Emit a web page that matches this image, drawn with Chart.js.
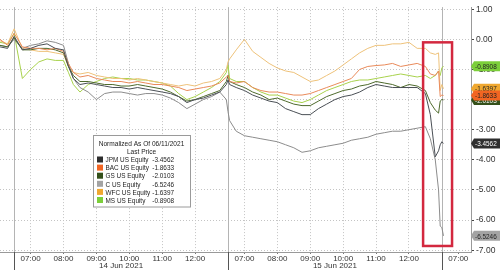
<!DOCTYPE html>
<html><head><meta charset="utf-8">
<script src="https://cdn.jsdelivr.net/npm/chart.js@4.4.0/dist/chart.umd.min.js"></script>
<style>html,body{margin:0;padding:0;background:#fff;}#wrap{width:500px;height:270px;position:relative;}</style>
</head><body><div id="wrap"><canvas id="c" width="500" height="270"></canvas></div>
<script>
// session time in hours (06:30 of 14 Jun = 0, sessions 6.5h long, joined)
const hours = [-0.43,-0.2,0,0.25,0.5,0.75,1.0,1.25,1.5,1.65,1.8,2.0,2.25,2.5,2.75,3.0,3.25,3.5,3.75,4.0,4.25,4.5,4.75,5.0,5.25,5.5,5.75,6.0,6.25,6.45,
  6.5,6.55,6.75,7.0,7.25,7.5,7.75,8.0,8.25,8.5,8.75,9.0,9.25,9.5,9.75,10.0,10.25,10.5,10.75,11.0,11.25,11.5,11.75,12.0,12.25,12.5,12.65,12.8,12.9,12.95,13.0,13.05];

const jpm = [-0.25,-0.3,0.1,-0.35,-0.3,-0.2,-0.15,-0.3,-0.35,-0.9,-1.3,-1.5,-1.45,-1.5,-1.55,-1.6,-1.6,-1.65,-1.6,-1.65,-1.7,-1.75,-1.8,-1.9,-2.1,-2.0,-1.95,-1.85,-1.75,-1.5,
  -1.35,-1.5,-1.6,-1.7,-1.85,-1.95,-2.05,-2.1,-2.3,-2.4,-2.5,-2.5,-2.3,-2.15,-2.0,-1.9,-1.85,-1.75,-1.6,-1.5,-1.55,-1.6,-1.6,-1.6,-1.6,-1.8,-2.5,-3.9,-3.7,-3.5,-3.4,-3.4562];
const bac = [0.0,-0.2,0.2,-0.25,-0.3,-0.3,-0.35,-0.3,-0.4,-0.8,-1.1,-1.25,-1.2,-1.3,-1.35,-1.4,-1.4,-1.45,-1.4,-1.45,-1.5,-1.5,-1.55,-1.6,-1.7,-1.65,-1.6,-1.55,-1.45,-1.25,
  -1.2,-1.4,-1.45,-1.4,-1.6,-1.7,-1.75,-1.75,-1.8,-1.85,-1.85,-1.8,-1.7,-1.6,-1.5,-1.4,-1.3,-1.0,-0.9,-0.87,-0.85,-0.8,-0.9,-0.85,-0.8,-0.9,-1.15,-1.2,-1.05,-1.9,-1.85,-1.8633];
const gs = [-0.2,-0.25,0.05,-0.35,-0.35,-0.3,-0.3,-0.35,-0.45,-0.9,-1.2,-1.4,-1.4,-1.45,-1.5,-1.5,-1.55,-1.55,-1.5,-1.55,-1.6,-1.65,-1.75,-1.9,-2.05,-2.0,-1.9,-1.8,-1.7,-1.4,
  -1.2,-1.4,-1.5,-1.6,-1.75,-1.85,-2.0,-1.95,-2.05,-2.15,-2.2,-2.2,-2.05,-1.9,-1.8,-1.7,-1.65,-1.55,-1.5,-1.4,-1.45,-1.5,-1.6,-1.5,-1.55,-1.7,-2.1,-2.35,-2.45,-2.05,-2.0,-2.0103];
const cStk = [-0.2,-0.25,0.0,-0.3,-0.2,-0.15,-0.05,-0.1,-0.2,-0.8,-1.3,-1.6,-1.75,-2.0,-1.8,-1.75,-1.75,-1.8,-1.85,-1.8,-1.8,-1.85,-1.95,-2.1,-2.3,-2.15,-2.0,-1.9,-1.75,-2.0,
  -2.4,-2.7,-3.05,-3.2,-3.25,-3.3,-3.35,-3.4,-3.5,-3.6,-3.75,-3.7,-3.6,-3.55,-3.5,-3.45,-3.35,-3.3,-3.25,-3.15,-3.1,-3.05,-3.05,-3.0,-2.95,-2.9,-3.3,-4.0,-5.0,-6.2,-6.25,-6.5246];
const wfc = [-0.05,-0.15,0.35,-0.3,-0.35,-0.4,-0.4,-0.45,-0.5,-0.9,-1.1,-1.15,-1.1,-1.2,-1.25,-1.3,-1.3,-1.35,-1.3,-1.35,-1.4,-1.45,-1.5,-1.55,-1.5,-1.55,-1.45,-1.4,-1.3,-1.0,
  -0.75,-0.65,-0.35,0.0,-0.4,-0.6,-0.8,-0.95,-1.05,-1.1,-1.25,-1.4,-1.35,-1.2,-1.05,-0.85,-0.65,-0.45,-0.3,-0.2,-0.2,-0.15,-0.15,-0.1,-0.3,-0.3,-0.45,-0.5,-0.45,-1.7,-1.5,-1.6397];
const ms = [-0.1,-0.15,0.2,-1.3,-1.0,-0.75,-0.65,-0.7,-0.7,-1.1,-1.5,-1.75,-1.5,-1.4,-1.3,-1.25,-1.3,-1.3,-1.35,-1.35,-1.4,-1.45,-1.55,-1.8,-2.0,-1.9,-1.75,-1.6,-1.4,-1.1,
  -0.85,-1.3,-1.4,-1.4,-1.6,-1.75,-1.85,-1.85,-1.95,-2.05,-2.1,-2.0,-1.85,-1.7,-1.6,-1.5,-1.4,-1.35,-1.35,-1.3,-1.25,-1.2,-1.15,-1.2,-1.25,-1.2,-1.3,-1.2,-1.05,-1.2,-0.95,-0.8908];

const seriesNames = ['JPM US Equity','BAC US Equity','GS US Equity','C US Equity','WFC US Equity','MS US Equity'];
const lastValues = [-3.4562,-1.8633,-2.0103,-6.5246,-1.6397,-0.8908];
const swatchColors = ['#2e2e2e','#f26522','#34501a','#a3a3a3','#f0a830','#7ccf3a'];
const lineColors = ['#4a4f55','#e98a5a','#4e6a2c','#8c8c8c','#eec27a','#a8d24c'];
const boxText = ['#ffffff','#222222','#ffffff','#222222','#222222','#222222'];

const tickHours = [0.5,1.5,2.5,3.5,4.5,5.5,7,8,9,10,11,12,13.5];
const tickLabels = ['07:00','08:00','09:00','10:00','11:00','12:00','07:00','08:00','09:00','10:00','11:00','12:00','07:00'];
const sessionBreaks = [0,6.5,13];
const dateLabels = ['14 Jun 2021','15 Jun 2021'];
const dateCenters = [3.25,9.75];
const yTicks = [1,0,-1,-2,-3,-4,-5,-6,-7];
const highlight = [12.43,13.31,-0.1,-6.86]; // x0,x1 (hours), y0,y1 (values)

const FONT = "'Liberation Sans', Arial, sans-serif";
const seriesData = [jpm,bac,gs,cStk,wfc,ms];
const datasets = seriesNames.map((n,k)=>({
  label:n,
  data: hours.map((h,i)=>({x:h,y:seriesData[k][i]})),
  borderColor: lineColors[k], borderWidth:1, pointRadius:0, tension:0, fill:false
}));

function sText(ctx, t, x, y, align, sx){
  ctx.save(); ctx.translate(x,y); ctx.scale(sx,1); ctx.textAlign=align; ctx.fillText(t,0,0); ctx.restore();
}

const decor = {
  id:'decor',
  beforeDatasetsDraw(chart){
    const {ctx, chartArea:a, scales:{x}} = chart;
    ctx.save();
    ctx.strokeStyle = '#b4b4b4'; ctx.lineWidth = 1;
    sessionBreaks.forEach(h=>{
      const px = Math.round(x.getPixelForValue(h))+0.5;
      ctx.beginPath(); ctx.moveTo(px,a.top); ctx.lineTo(px,a.bottom); ctx.stroke();
    });
    ctx.restore();
  },
  afterDatasetsDraw(chart){
    const {ctx, scales:{x,y}} = chart;
    const x0=x.getPixelForValue(highlight[0]), x1=x.getPixelForValue(highlight[1]);
    const y0=y.getPixelForValue(highlight[2]), y1=y.getPixelForValue(highlight[3]);
    ctx.save(); ctx.strokeStyle='#d3283f'; ctx.lineWidth=2.5;
    ctx.strokeRect(x0,y0,x1-x0,y1-y0); ctx.restore();
  },
  afterDraw(chart){
    const {ctx, chartArea:a, scales:{x,y}} = chart;
    ctx.save();
    ctx.strokeStyle='#555'; ctx.lineWidth=1;
    sessionBreaks.forEach(h=>{
      const px = Math.round(x.getPixelForValue(h))+0.5;
      ctx.beginPath(); ctx.moveTo(px,a.bottom); ctx.lineTo(px,270); ctx.stroke();
    });
    ctx.fillStyle='#333'; ctx.font='8px '+FONT; ctx.textBaseline='middle';
    dateLabels.forEach((t,i)=>sText(ctx, t, x.getPixelForValue(dateCenters[i]), 265.5, 'center', 1));
    // value boxes
    const order=[2,4,1,5,0,3];
    ctx.font='8px '+FONT;
    order.forEach(k=>{
      const py = y.getPixelForValue(lastValues[k]);
      ctx.fillStyle = swatchColors[k];
      ctx.beginPath();
      ctx.moveTo(a.right, py); ctx.lineTo(a.right+3, py-5); ctx.lineTo(500, py-5); ctx.lineTo(500, py+5); ctx.lineTo(a.right+3, py+5); ctx.closePath();
      ctx.fill();
      ctx.fillStyle = boxText[k];
      sText(ctx, lastValues[k].toFixed(4), a.right+4, py+0.5, 'left', 0.8);
    });
    // legend
    const L=93, T=135.5, W=97, H=71.5;
    ctx.fillStyle='#fff'; ctx.strokeStyle='#9a9a9a'; ctx.lineWidth=1;
    ctx.fillRect(L,T,W,H); ctx.strokeRect(L+0.5,T,W,H);
    ctx.fillStyle='#222'; ctx.font='8px '+FONT;
    sText(ctx,'Normalized As Of 06/11/2021', L+W/2, T+8.5, 'center', 0.82);
    sText(ctx,'Last Price', L+W/2, T+16.5, 'center', 0.82);
    seriesNames.forEach((n,i)=>{
      const ry = T+24 + i*8.1;
      ctx.fillStyle = swatchColors[i]; ctx.fillRect(L+4, ry-3, 6, 6);
      ctx.fillStyle='#222';
      sText(ctx, n, L+12.5, ry+0.5, 'left', 0.8);
      sText(ctx, lastValues[i].toFixed(4), L+81, ry+0.5, 'right', 0.8);
    });
    ctx.restore();
  }
};

new Chart(document.getElementById('c'), {
  type:'line',
  data:{datasets},
  options:{
    responsive:false, animation:false, devicePixelRatio:1,
    layout:{padding:0},
    plugins:{legend:{display:false}, tooltip:{enabled:false}},
    scales:{
      x:{
        type:'linear', min:-0.43, max:13.886,
        afterBuildTicks(s){ s.ticks = tickHours.map(v=>({value:v})); },
        afterFit(s){ s.height = 18; },
        ticks:{autoSkip:false, maxRotation:0, padding:0, color:'#333', font:{size:8, family:FONT},
          callback:(v,i)=>tickLabels[i]},
        grid:{color:(c)=> (c.tick && c.tick.value>13) ? 'rgba(0,0,0,0)' : '#c4c4c4', lineWidth:1, tickLength:2, tickColor:'#777'},
        border:{display:true, color:'#999', dash:[1,2]}
      },
      y:{
        position:'right', min:-7.06, max:1.07,
        afterBuildTicks(s){ s.ticks = yTicks.map(v=>({value:v})); },
        afterFit(s){ s.width = 29; },
        ticks:{padding:2, color:'#333', font:{size:8.5, family:FONT}, callback:(v)=>Number(v).toFixed(2)},
        grid:{color:'#c4c4c4', lineWidth:1, tickLength:3, tickColor:'#444'},
        border:{display:true, color:'#999', dash:[1,2]}
      }
    }
  },
  plugins:[decor]
});
</script>
</body></html>
